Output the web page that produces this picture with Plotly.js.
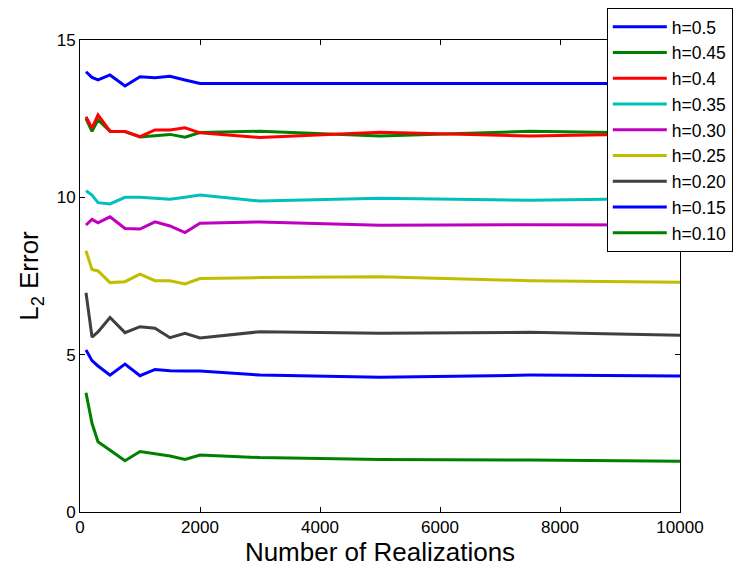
<!DOCTYPE html>
<html>
<head>
<meta charset="utf-8">
<script src="https://cdn.plot.ly/plotly-3.0.1.min.js"></script>
<style>html,body{margin:0;padding:0;background:#fff;}#chart{width:743px;height:572px;}</style>
</head>
<body>
<div id="chart"></div>
<script>
// Number of realizations (x)
const realizations = [100, 200, 300, 500, 750, 1000, 1250, 1500, 1750, 2000, 3000, 5000, 7500, 10000];

// L2 error per h
const h050 = [13.99, 13.81, 13.73, 13.89, 13.54, 13.83, 13.80, 13.85, 13.73, 13.62, 13.62, 13.62, 13.61, 13.62];
const h045 = [12.50, 12.10, 12.46, 12.10, 12.09, 11.92, 11.96, 12.00, 11.91, 12.06, 12.10, 11.95, 12.10, 12.03];
const h040 = [12.56, 12.20, 12.62, 12.10, 12.09, 11.93, 12.14, 12.14, 12.21, 12.05, 11.90, 12.07, 11.95, 12.03];
const h035 = [10.21, 10.07, 9.83, 9.79, 10.00, 10.00, 9.97, 9.94, 10.00, 10.07, 9.88, 9.97, 9.91, 9.97];
const h030 = [9.12, 9.30, 9.19, 9.38, 9.01, 8.99, 9.22, 9.09, 8.88, 9.18, 9.22, 9.11, 9.13, 9.12];
const h025 = [8.30, 7.71, 7.66, 7.29, 7.32, 7.56, 7.35, 7.35, 7.25, 7.42, 7.45, 7.48, 7.35, 7.30];
const h020 = [6.97, 5.56, 5.72, 6.18, 5.70, 5.89, 5.84, 5.54, 5.68, 5.53, 5.73, 5.68, 5.71, 5.62];
const h015 = [5.15, 4.81, 4.64, 4.35, 4.70, 4.33, 4.53, 4.49, 4.48, 4.48, 4.35, 4.28, 4.35, 4.32];
const h010 = [3.79, 2.82, 2.23, 1.97, 1.63, 1.92, 1.84, 1.78, 1.67, 1.81, 1.73, 1.67, 1.65, 1.61];

const seriesNames = ["h=0.5", "h=0.45", "h=0.4", "h=0.35", "h=0.30", "h=0.25", "h=0.20", "h=0.15", "h=0.10"];
const seriesValues = [h050, h045, h040, h035, h030, h025, h020, h015, h010];
const seriesColors = ["#0000ff", "#008000", "#ff0000", "#00bfbf", "#bf00bf", "#bfbf00", "#404040", "#0000ff", "#008000"];

const xTicks = [0, 2000, 4000, 6000, 8000, 10000];
const yTicks = [0, 5, 10, 15];

const traces = seriesNames.map((name, i) => ({
  x: realizations,
  y: seriesValues[i],
  name: name,
  type: "scatter",
  mode: "lines",
  line: {color: seriesColors[i], width: 3}
}));

const fontFam = "Liberation Sans, Arial, Helvetica, sans-serif";

const layout = {
  width: 743,
  height: 572,
  margin: {l: 80, r: 63, t: 40, b: 60, autoexpand: false},
  paper_bgcolor: "#ffffff",
  plot_bgcolor: "#ffffff",
  font: {family: fontFam, color: "#000000", size: 17},
  showlegend: true,
  legend: {
    x: 0.878, xanchor: "left",
    y: 1.068, yanchor: "top",
    bgcolor: "#ffffff",
    bordercolor: "#000000",
    borderwidth: 1,
    itemwidth: 54,
    font: {family: fontFam, size: 17.5, color: "#000000"},
    tracegroupgap: 0
  },
  xaxis: {
    range: [0, 10000],
    tickvals: xTicks,
    ticktext: xTicks.map(String),
    ticks: "inside",
    ticklen: 5,
    tickcolor: "#000000",
    showline: true,
    linecolor: "#000000",
    linewidth: 1,
    mirror: "ticks",
    showgrid: false,
    zeroline: false,
    tickfont: {family: fontFam, size: 17},
    title: {text: "Number of Realizations", font: {family: fontFam, size: 26}, standoff: 2}
  },
  yaxis: {
    range: [0, 15],
    tickvals: yTicks,
    ticktext: yTicks.map(String),
    ticks: "inside",
    ticklen: 5,
    tickcolor: "#000000",
    showline: true,
    linecolor: "#000000",
    linewidth: 1,
    mirror: "ticks",
    showgrid: false,
    zeroline: false,
    tickfont: {family: fontFam, size: 17},
    title: {text: "L<sub>2</sub> Error", font: {family: fontFam, size: 26}, standoff: 10}
  }
};

Plotly.newPlot("chart", traces, layout, {displayModeBar: false, staticPlot: true});
</script>
</body>
</html>
